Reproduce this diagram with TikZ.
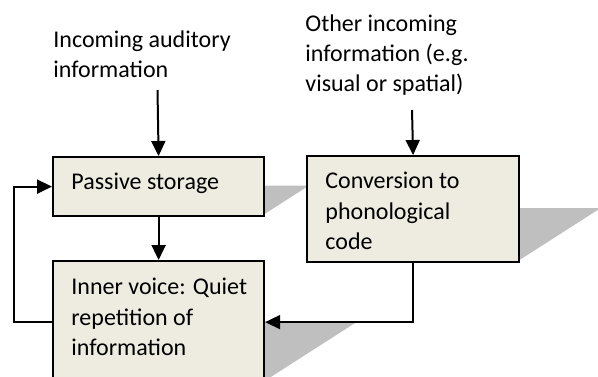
\documentclass[tikz,border=0pt]{standalone}
\usepackage{fontspec}
\setmainfont{Carlito}
\usepackage{tikz}
\usetikzlibrary{arrows.meta,calc}
\definecolor{boxFill}{HTML}{EEECE1}
\definecolor{shadeGray}{HTML}{BFBFBF}

\begin{document}
\begin{tikzpicture}[x=0.5pt, y=-0.5pt,
  box/.style={rectangle,draw=black,fill=boxFill,line width=1.1pt,inner sep=0pt,anchor=north west},
  boxshade/.style={fill=shadeGray},
  boxtext/.style={anchor=north west,align=left,inner sep=0pt,font=\fontsize{12}{15.2}\selectfont},
  flow/.style={draw=black,line width=1pt,-{Triangle[length=7.5pt,width=7pt]}}
]
\clip (0,0) rectangle (598,376);

% slanted shadows first, so the boxes sit on top of them
\foreach \l/\r/\t/\b in {52/263/156/215, 306/518/155/261, 52/263/260/382}
  \fill[boxshade] (\l,\b) -- (\r,\b) -- ({\r+0.78*(\b-\t)},{(\t+\b)/2})
    -- ({\l+0.78*(\b-\t)},{(\t+\b)/2}) -- cycle;

\node[box,minimum width=105.5pt,minimum height=29.5pt] (passive) at (52,156) {};
\node[box,minimum width=106pt,minimum height=53pt] (convert) at (306,155) {};
\node[box,minimum width=105.5pt,minimum height=61pt] (inner) at (52,260) {};

\node[boxtext] (passive-t) at ($(passive.north west)+(19,17)$) {Passive storage};
\node[boxtext] (convert-t) at ($(convert.north west)+(19,17)$) {Conversion to\\phonological\\code};
\node[boxtext] (inner-t) at ($(inner.north west)+(19,18)$) {Inner voice: Quiet\\repetition of\\information};

\node[boxtext] (audio-t) at (53,30) {Incoming auditory\\information};
\node[boxtext] (other-t) at (305,14) {Other incoming\\information (e.g.\\visual or spatial)};

\coordinate (audio-in) at (157.5,90);
\coordinate (other-in) at (412,110);

\draw[flow] (audio-in) -- (passive.north);
\draw[flow] (other-in) -- (convert.north);
\draw[flow] (passive.south) -- (inner.north);
\draw[flow] (inner.west) -- ++(-38,0) |- (passive.west);
\draw[flow] (convert.south) |- (inner.east);
\end{tikzpicture}
\end{document}
